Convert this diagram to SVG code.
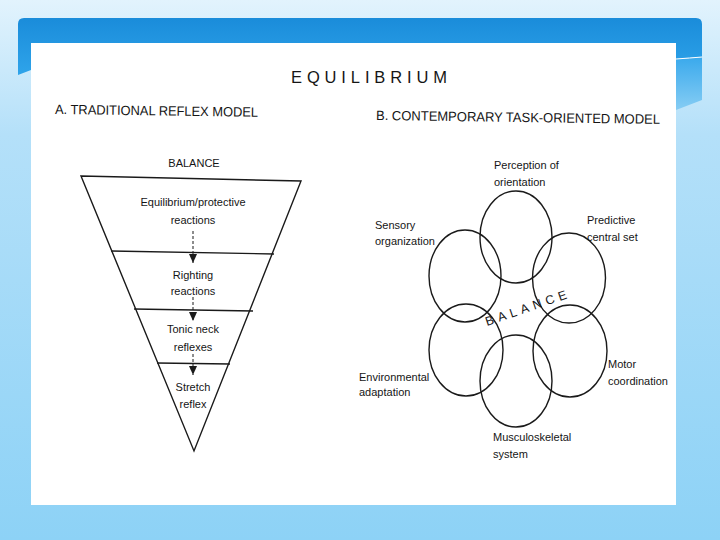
<svg xmlns="http://www.w3.org/2000/svg" width="720" height="540" viewBox="0 0 720 540">
  <defs>
    <linearGradient id="bg" x1="0" y1="0" x2="0" y2="1">
      <stop offset="0" stop-color="#e2f3fd"/>
      <stop offset="0.25" stop-color="#b4e0f9"/>
      <stop offset="1" stop-color="#8dd2f6"/>
    </linearGradient>
    <linearGradient id="band" x1="0" y1="0" x2="0" y2="1">
      <stop offset="0" stop-color="#1a8cda"/>
      <stop offset="1" stop-color="#2fa4ea"/>
    </linearGradient>
    <linearGradient id="swoosh" x1="0" y1="0" x2="0" y2="1">
      <stop offset="0" stop-color="#3aa9ec"/>
      <stop offset="1" stop-color="#86cdf4"/>
    </linearGradient>
    <marker id="ah" markerWidth="9" markerHeight="8" refX="9" refY="4" orient="auto" markerUnits="userSpaceOnUse" viewBox="0 0 9 8">
      <path d="M0,0 L9,4 L0,8 Z" fill="#1a1a1a"/>
    </marker>
    <style>
      .lbl { font-family: "Liberation Sans", Arial, sans-serif; font-size: 11px; fill: #151515; }
      .mid { text-anchor: middle; }
      .hdr { font-family: "Liberation Sans", Arial, sans-serif; font-size: 13.5px; fill: #151515; }
      .shape { fill: none; stroke: #1a1a1a; stroke-width: 1.4; }
      .conn { stroke: #1a1a1a; stroke-width: 1; stroke-dasharray: 3 2; fill: none; }
    </style>
  </defs>

  <!-- slide background -->
  <rect x="0" y="0" width="720" height="540" fill="url(#bg)"/>
  <path d="M676,59 Q690,58 702,57 L702,100 L676,110 Z" fill="url(#swoosh)"/>
  <path d="M18,75 L18,24 Q18,18 24,18 L696,18 Q702,18 702,24 L702,57 Q690,58 676,59 L31,70 Z" fill="url(#band)"/>
  <path d="M676,59 Q690,58 702,57" fill="none" stroke="#ffffff" stroke-width="1"/>
  <rect x="31" y="43" width="645" height="462" fill="#ffffff"/>

  <!-- headings -->
  <text x="291" y="83" font-family="'Liberation Sans', Arial, sans-serif" font-size="16.5" fill="#151515" textLength="156" lengthAdjust="spacing">EQUILIBRIUM</text>
  <text class="hdr" x="55" y="114" textLength="203" lengthAdjust="spacingAndGlyphs" transform="rotate(0.8 55 114)">A. TRADITIONAL REFLEX MODEL</text>
  <text class="hdr" x="376" y="120" textLength="284" lengthAdjust="spacingAndGlyphs" transform="rotate(0.8 376 120)">B. CONTEMPORARY TASK-ORIENTED MODEL</text>

  <!-- A: inverted triangle -->
  <g id="triangle">
    <polygon class="shape" points="81,176 301,181 194,451"/>
    <line class="shape" x1="111" y1="251" x2="274" y2="254"/>
    <line class="shape" x1="134" y1="309" x2="253" y2="311"/>
    <line class="shape" x1="157" y1="363" x2="230" y2="364"/>
    <text class="lbl mid" x="194" y="167">BALANCE</text>
  </g>
  <g id="equilibrium-reactions">
    <text class="lbl mid" x="193" y="206">Equilibrium/protective</text>
    <text class="lbl mid" x="193" y="224">reactions</text>
  </g>
  <g id="righting-reactions">
    <text class="lbl mid" x="193" y="279">Righting</text>
    <text class="lbl mid" x="193" y="295">reactions</text>
  </g>
  <g id="tonic-neck-reflexes">
    <text class="lbl mid" x="193" y="333">Tonic neck</text>
    <text class="lbl mid" x="193" y="351">reflexes</text>
  </g>
  <g id="stretch-reflex">
    <text class="lbl mid" x="193" y="391">Stretch</text>
    <text class="lbl mid" x="193" y="408">reflex</text>
  </g>

  <!-- B: overlapping circles -->
  <g id="perception">
    <ellipse class="shape" cx="516" cy="237" rx="36" ry="46"/>
    <text class="lbl" x="494" y="169" font-size="10.5">Perception of</text>
    <text class="lbl" x="494" y="186" font-size="10.5">orientation</text>
  </g>
  <g id="sensory">
    <ellipse class="shape" cx="465" cy="276" rx="36" ry="46"/>
    <text class="lbl" x="375" y="229" font-size="10.5">Sensory</text>
    <text class="lbl" x="375" y="245" font-size="10.5">organization</text>
  </g>
  <g id="predictive">
    <ellipse class="shape" cx="569" cy="278" rx="36.5" ry="45"/>
    <text class="lbl" x="587" y="224" font-size="10.5">Predictive</text>
    <text class="lbl" x="587" y="241" font-size="10.5">central set</text>
  </g>
  <g id="environmental">
    <ellipse class="shape" cx="466" cy="350" rx="37" ry="46"/>
    <text class="lbl" x="359" y="381">Environmental</text>
    <text class="lbl" x="359" y="396">adaptation</text>
  </g>
  <g id="motor">
    <ellipse class="shape" cx="570" cy="351" rx="37" ry="46"/>
    <text class="lbl" x="608" y="368">Motor</text>
    <text class="lbl" x="608" y="385">coordination</text>
  </g>
  <g id="musculoskeletal">
    <ellipse class="shape" cx="516" cy="381" rx="36" ry="46"/>
    <text class="lbl" x="493" y="441">Musculoskeletal</text>
    <text class="lbl" x="493" y="458">system</text>
  </g>
  <g id="balance-center">
    <text x="487" y="326" font-family="'Liberation Sans', Arial, sans-serif" font-size="12.5" fill="#151515" letter-spacing="4.5" transform="rotate(-19 487 326)">BALANCE</text>
  </g>

  <!-- connectors -->
  <g id="connectors">
    <line class="conn" x1="193" y1="231" x2="193" y2="263" marker-end="url(#ah)"/>
    <line class="conn" x1="193" y1="297" x2="193" y2="321" marker-end="url(#ah)"/>
    <line class="conn" x1="193" y1="354" x2="193" y2="375" marker-end="url(#ah)"/>
  </g>
</svg>
